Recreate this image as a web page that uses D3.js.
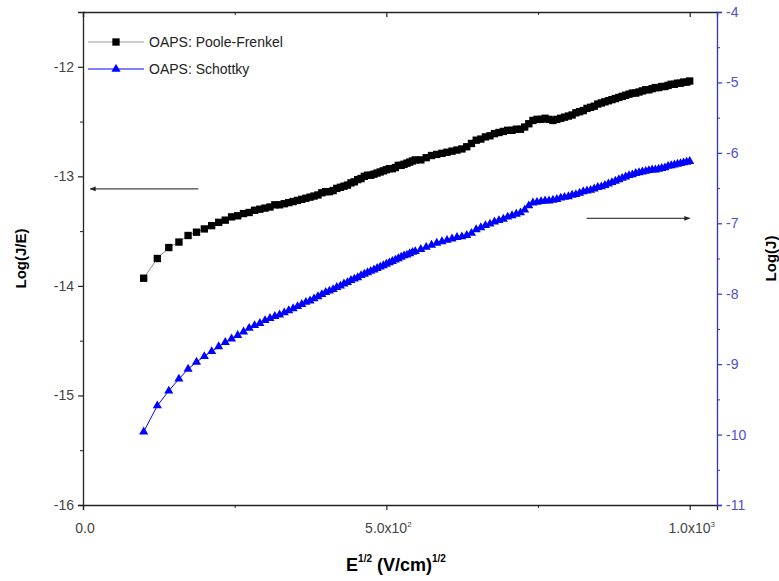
<!DOCTYPE html>
<html>
<head>
<meta charset="utf-8">
<script src="https://cdn.jsdelivr.net/npm/d3@7/dist/d3.min.js"></script>
<style>
  body { margin: 0; background: #fff; }
  svg { font-family: "Liberation Sans", Arial, sans-serif; }
</style>
</head>
<body>
<div id="chart"></div>
<script>
/* Poole-Frenkel / Schottky plot, two y axes */

// E^(1/2) values (V/cm)^(1/2)
const xVals = [100.0, 122.5, 141.4, 158.1, 173.2, 187.1, 200.0, 212.1, 223.6, 234.5,
  244.9, 255.0, 264.6, 273.9, 282.8, 291.5, 300.0, 308.2, 316.2,
  324.0, 331.7, 339.1, 346.4, 353.6, 360.6, 367.4, 374.2, 380.8, 387.3,
  393.7, 400.0, 406.2, 412.3, 418.3, 424.3, 430.1, 435.9, 441.6, 447.2,
  452.8, 458.3, 463.7, 469.0, 474.3, 479.6, 484.8, 489.9, 495.0, 500.0,
  505.0, 509.9, 514.8, 519.6, 524.4, 529.2, 533.9, 538.5, 543.1, 547.7,
  556.8, 565.7, 574.5, 583.1, 591.6, 600.0, 608.3, 616.4, 624.5, 632.5,
  640.3, 648.1, 655.7, 663.3, 670.8, 678.2, 685.6, 692.8, 700.0, 707.1,
  714.1, 721.1, 728.0, 734.8, 741.6, 748.3, 755.0, 761.6, 768.1, 774.6,
  781.0, 787.4, 793.7, 800.0, 806.2, 812.4, 818.5, 824.6, 830.7, 836.7,
  842.6, 848.5, 854.4, 860.2, 866.0, 871.8, 877.5, 883.2, 888.8, 894.4,
  900.0, 905.5, 911.0, 916.5, 922.0, 927.4, 932.7, 938.1, 943.4, 948.7,
  953.9, 959.2, 964.4, 969.5, 974.7, 979.8, 984.9, 989.9, 995.0, 1000.0];

// Log(J/E), left axis
const pooleFrenkel = [-13.93, -13.75, -13.65, -13.60, -13.54, -13.51, -13.48, -13.45, -13.42, -13.40,
  -13.37, -13.36, -13.34, -13.33, -13.31, -13.30, -13.29, -13.28, -13.26,
  -13.26, -13.25, -13.24, -13.23, -13.22, -13.21, -13.20, -13.19, -13.18, -13.17,
  -13.15, -13.14, -13.14, -13.13, -13.11, -13.10, -13.09, -13.08, -13.06, -13.05,
  -13.03, -13.02, -13.00, -12.99, -12.99, -12.98, -12.97, -12.96, -12.95, -12.94,
  -12.93, -12.93, -12.92, -12.90, -12.90, -12.89, -12.88, -12.87, -12.86, -12.85,
  -12.85, -12.83, -12.81, -12.80, -12.79, -12.78, -12.77, -12.76, -12.75, -12.73,
  -12.70, -12.67, -12.66, -12.64, -12.63, -12.61, -12.60, -12.59, -12.58, -12.58,
  -12.57, -12.57, -12.55, -12.52, -12.49, -12.48, -12.48, -12.47, -12.48, -12.49,
  -12.48, -12.47, -12.46, -12.45, -12.44, -12.42, -12.41, -12.40, -12.38, -12.37,
  -12.36, -12.34, -12.33, -12.32, -12.31, -12.30, -12.29, -12.28, -12.27, -12.26,
  -12.25, -12.24, -12.24, -12.23, -12.22, -12.21, -12.21, -12.20, -12.19, -12.19,
  -12.18, -12.18, -12.17, -12.16, -12.16, -12.15, -12.15, -12.14, -12.14, -12.13];

// Log(J), right axis
const schottky = [-9.96, -9.59, -9.38, -9.21, -9.07, -8.97, -8.89, -8.82, -8.75, -8.69,
  -8.64, -8.59, -8.54, -8.49, -8.45, -8.42, -8.38, -8.35, -8.32,
  -8.30, -8.27, -8.24, -8.21, -8.18, -8.15, -8.12, -8.10, -8.07, -8.04,
  -8.01, -7.98, -7.96, -7.94, -7.91, -7.89, -7.86, -7.84, -7.81, -7.79,
  -7.77, -7.74, -7.72, -7.70, -7.68, -7.66, -7.64, -7.62, -7.60, -7.58,
  -7.56, -7.54, -7.52, -7.50, -7.48, -7.46, -7.45, -7.43, -7.41, -7.40,
  -7.37, -7.34, -7.31, -7.28, -7.26, -7.24, -7.22, -7.20, -7.19, -7.17,
  -7.14, -7.09, -7.06, -7.03, -7.01, -6.98, -6.96, -6.94, -6.91, -6.89,
  -6.87, -6.85, -6.81, -6.75, -6.71, -6.70, -6.69, -6.68, -6.68, -6.67,
  -6.66, -6.64, -6.63, -6.62, -6.60, -6.59, -6.57, -6.55, -6.54, -6.53,
  -6.51, -6.49, -6.48, -6.46, -6.44, -6.42, -6.40, -6.38, -6.36, -6.34,
  -6.32, -6.31, -6.29, -6.28, -6.27, -6.26, -6.25, -6.24, -6.24, -6.23,
  -6.22, -6.21, -6.19, -6.18, -6.17, -6.16, -6.15, -6.14, -6.13, -6.12];

const xTicks = [0, 500, 1000];
const xTickBase = ["0.0", "5.0x10", "1.0x10"];
const xTickExp = ["", "2", "3"];
const xMinor = [250, 750];
const leftTicks = [-16, -15, -14, -13, -12];
const leftMinor = [-15.5, -14.5, -13.5, -12.5];
const rightTicks = [-11, -10, -9, -8, -7, -6, -5, -4];
const rightMinor = [-10.5, -9.5, -8.5, -7.5, -6.5, -5.5, -4.5];
const seriesNames = ["OAPS: Poole-Frenkel", "OAPS: Schottky"];

const width = 779, height = 581,
      margin = ({ top: 12, right: 62, bottom: 76, left: 83 });
const blue = "#0000ff", axisBlue = "#3333cc";

let svg = d3.select("#chart").append("svg")
    .attr("width", width).attr("height", height);

let x = d3.scaleLinear().domain([0, 1045]).range([margin.left, width - margin.right]);
let yL = d3.scaleLinear().domain([-16, -11.5]).range([height - margin.bottom, margin.top]);
let yR = d3.scaleLinear().domain([-11, -4]).range([height - margin.bottom, margin.top]);

function styleAxis(g, color) {
  g.select(".domain").attr("stroke", color).attr("stroke-width", 1.3);
  g.selectAll(".tick line").attr("stroke", color).attr("stroke-width", 1.2);
  g.selectAll(".tick text").attr("fill", color).attr("font-size", 13);
}

// bottom axis
let gx = svg.append("g").attr("transform", `translate(0,${yL.range()[0]})`)
  .call(d3.axisBottom(x).tickValues(xTicks).tickSize(5).tickFormat(""));
styleAxis(gx, "#222");
svg.append("g").attr("transform", `translate(0,${yL.range()[0]})`)
  .call(d3.axisBottom(x).tickValues(xMinor).tickSize(3).tickFormat(""))
  .call(g => g.select(".domain").remove())
  .selectAll("line").attr("stroke", "#222");

let xl = svg.append("g").selectAll("text").data(xTicks).join("text")
  .attr("x", d => x(d) + 2).attr("y", yL.range()[0] + 28)
  .attr("text-anchor", "middle").attr("font-size", 14).attr("fill", "#444");
xl.append("tspan").text((d, i) => xTickBase[i]);
xl.append("tspan").attr("dy", -6).attr("font-size", 8).text((d, i) => xTickExp[i]);

// top frame with inward ticks
let gt = svg.append("g").attr("transform", `translate(0,${margin.top})`)
  .call(d3.axisBottom(x).tickValues(xTicks).tickSize(5).tickFormat(""));
styleAxis(gt, "#222");
svg.append("g").attr("transform", `translate(0,${margin.top})`)
  .call(d3.axisBottom(x).tickValues(xMinor).tickSize(3).tickFormat(""))
  .call(g => g.select(".domain").remove())
  .selectAll("line").attr("stroke", "#222");

// left axis
let gl = svg.append("g").attr("transform", `translate(${margin.left},0)`)
  .call(d3.axisLeft(yL).tickValues(leftTicks).tickSize(5).tickPadding(4).tickFormat(d => String(d)));
styleAxis(gl, "#222");
gl.selectAll(".tick text").attr("fill", "#444").attr("font-size", 14);
svg.append("g").attr("transform", `translate(${margin.left},0)`)
  .call(d3.axisLeft(yL).tickValues(leftMinor).tickSize(3).tickFormat(""))
  .call(g => g.select(".domain").remove())
  .selectAll("line").attr("stroke", "#222");

// right axis
let gr = svg.append("g").attr("transform", `translate(${width - margin.right},0)`)
  .call(d3.axisRight(yR).tickValues(rightTicks).tickSize(5).tickPadding(4).tickFormat(d => String(d)));
styleAxis(gr, axisBlue);
gr.selectAll(".tick text").attr("fill", "#5050c8").attr("font-size", 14);
svg.append("g").attr("transform", `translate(${width - margin.right},0)`)
  .call(d3.axisRight(yR).tickValues(rightMinor).tickSize(3).tickFormat(""))
  .call(g => g.select(".domain").remove())
  .selectAll("line").attr("stroke", axisBlue);

// axis titles
svg.append("text")
  .attr("transform", `translate(26,${(margin.top + height - margin.bottom) / 2}) rotate(-90)`)
  .attr("text-anchor", "middle").attr("font-size", 15).attr("font-weight", "bold")
  .text("Log(J/E)");
svg.append("text")
  .attr("transform", `translate(776,${(margin.top + height - margin.bottom) / 2}) rotate(-90)`)
  .attr("text-anchor", "middle").attr("font-size", 15).attr("font-weight", "bold")
  .text("Log(J)");
let xt = svg.append("text")
  .attr("x", 396).attr("y", 571)
  .attr("text-anchor", "middle").attr("font-size", 18).attr("font-weight", "bold");
xt.append("tspan").text("E");
xt.append("tspan").attr("dy", -9).attr("font-size", 10).text("1/2");
xt.append("tspan").attr("dy", 9).text(" (V/cm)");
xt.append("tspan").attr("dy", -9).attr("font-size", 10).text("1/2");

// series
let pf = xVals.map((d, i) => ({ x: d, y: pooleFrenkel[i] }));
let sc = xVals.map((d, i) => ({ x: d, y: schottky[i] }));

svg.append("path").datum(pf)
  .attr("fill", "none").attr("stroke", "#888").attr("stroke-width", 1)
  .attr("d", d3.line().x(d => x(d.x)).y(d => yL(d.y)));
svg.append("path").datum(sc)
  .attr("fill", "none").attr("stroke", blue).attr("stroke-width", 1)
  .attr("d", d3.line().x(d => x(d.x)).y(d => yR(d.y)));

const sq = d3.symbol().type(d3.symbolSquare).size(54);
const tri = d3.symbol().type(d3.symbolTriangle).size(36);

svg.append("g").selectAll("path").data(pf).join("path")
  .attr("d", sq).attr("fill", "#000")
  .attr("transform", d => `translate(${x(d.x)},${yL(d.y)})`);
svg.append("g").selectAll("path").data(sc).join("path")
  .attr("d", tri).attr("fill", blue)
  .attr("transform", d => `translate(${x(d.x)},${yR(d.y)})`);

// arrows pointing to each series' axis
svg.append("defs").append("marker")
  .attr("id", "arrow").attr("viewBox", "0 0 10 10")
  .attr("refX", 9).attr("refY", 5)
  .attr("markerWidth", 7).attr("markerHeight", 5).attr("orient", "auto")
  .append("path").attr("d", "M0,1L10,5L0,9Z").attr("fill", "#222");

svg.append("line")
  .attr("x1", x(190)).attr("x2", x(12)).attr("y1", yL(-13.115)).attr("y2", yL(-13.115))
  .attr("stroke", "#444").attr("stroke-width", 1.2).attr("marker-end", "url(#arrow)");
svg.append("line")
  .attr("x1", x(830)).attr("x2", x(1000)).attr("y1", yR(-6.93)).attr("y2", yR(-6.93))
  .attr("stroke", "#444").attr("stroke-width", 1.2).attr("marker-end", "url(#arrow)");

// legend
let legend = svg.append("g").attr("transform", "translate(88,42)");
let lg = legend.selectAll("g").data(seriesNames).join("g")
  .attr("transform", (d, i) => `translate(0,${i * 27})`);
lg.append("line").attr("x1", 0).attr("x2", 56)
  .attr("stroke", (d, i) => i === 0 ? "#999" : blue).attr("stroke-width", 1.2);
lg.append("path")
  .attr("d", (d, i) => i === 0 ? sq() : tri())
  .attr("fill", (d, i) => i === 0 ? "#000" : blue)
  .attr("transform", "translate(28,0)");
lg.append("text").attr("x", 61).attr("y", 5)
  .attr("font-size", 14).attr("fill", "#222").text(d => d);
</script>
</body>
</html>
